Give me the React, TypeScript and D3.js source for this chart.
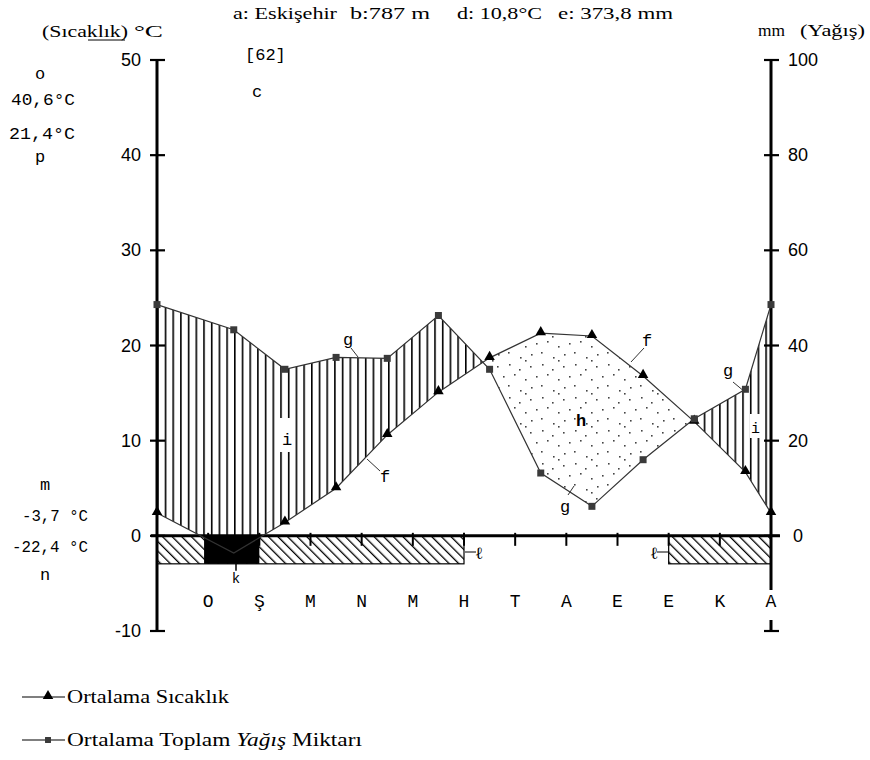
import React from 'react';
import * as d3 from 'd3';

// ---- data ----
const monthLabels = ['O', 'Ş', 'M', 'N', 'M', 'H', 'T', 'A', 'E', 'E', 'K', 'A'];
const monthPositions = [1.5, 2.5, 3.5, 4.5, 5.5, 6.5, 7.5, 8.5, 9.5, 10.5, 11.5, 12];
const temperature = [-1.8, 1.4, 5.0, 10.6, 15.1, 18.7, 21.3, 21.0, 16.8, 12.0, 6.7, 2.4];
const precipitation = [43.3, 35.0, 37.5, 37.3, 46.3, 35.0, 13.2, 6.2, 16.0, 24.6, 30.8, 48.6];
const tempTicks = [-10, 0, 10, 20, 30, 40, 50];
const precipTicks = [0, 20, 40, 60, 80, 100];
const frostCertain = [[0.92, 2.0]];
const frostProbable = [[0, 6], [10, 12]];

type P = { x: number; t: number; p: number };
const series: P[] = [
  { x: 0, t: temperature[11], p: precipitation[11] },
  ...monthPositions.map((x, i) => ({ x, t: temperature[i], p: precipitation[i] })),
];

const x = d3.scaleLinear().domain([0, 12]).range([157, 771]);
const yT = d3.scaleLinear().domain([-10, 50]).range([631, 60]);
const yP = d3.scaleLinear().domain([-20, 100]).range([631, 60]);

const serif = '"Liberation Serif", "Times New Roman", serif';
const mono = '"Liberation Mono", "Courier New", monospace';
const sans = '"Liberation Sans", Arial, sans-serif';

const tempLine = d3.line<P>().x(d => x(d.x)).y(d => yT(d.t));
const precLine = d3.line<P>().x(d => x(d.x)).y(d => yP(d.p));
const belowPrecip = d3.area<P>().x(d => x(d.x)).y0(yT(-10)).y1(d => yP(d.p));
const aboveTemp = d3.area<P>().x(d => x(d.x)).y0(d => yT(d.t)).y1(yT(50));
const belowTemp = d3.area<P>().x(d => x(d.x)).y0(yT(-10)).y1(d => yT(d.t));
const abovePrecip = d3.area<P>().x(d => x(d.x)).y0(d => yP(d.p)).y1(yT(50));

const tri = d3.symbol().type(d3.symbolTriangle).size(48)();
const sq = d3.symbol().type(d3.symbolSquare).size(49)();

const dotTile = [[2, 3], [14, 1], [24, 6], [8, 13], [19, 11], [30, 16], [3, 24], [13, 22], [25, 27], [30, 30]];

export default function App() {
  const y0 = yT(0);
  const barH = 28;
  return (
    <svg width={870} height={760} style={{ position: 'absolute', left: 0, top: 0, background: '#fff' }}>
      <defs>
        <pattern id="vhatch" patternUnits="userSpaceOnUse" x={157} y={0} width={7.7} height={10}>
          <rect x={0} y={0} width={1.6} height={10} fill="#000" />
        </pattern>
        <pattern id="dhatch" patternUnits="userSpaceOnUse" width={6.8} height={10} patternTransform="rotate(-45)">
          <rect x={0} y={0} width={1.3} height={10} fill="#000" />
        </pattern>
        <pattern id="dots" patternUnits="userSpaceOnUse" width={33} height={33}>
          {dotTile.map(([a, b], i) => <rect key={i} x={a} y={b} width={1.6} height={1.6} fill="#444" />)}
        </pattern>
        <clipPath id="cBelowPrecip"><path d={belowPrecip(series) || ''} /></clipPath>
        <clipPath id="cBelowTemp"><path d={belowTemp(series) || ''} /></clipPath>
      </defs>

      {/* humid & arid periods */}
      <path d={aboveTemp(series) || ''} fill="url(#vhatch)" clipPath="url(#cBelowPrecip)" />
      <path d={abovePrecip(series) || ''} fill="url(#dots)" clipPath="url(#cBelowTemp)" />

      {/* frost bars */}
      {frostProbable.map(([a, b], i) => (
        <g key={i}>
          <rect x={x(a)} y={y0} width={x(b) - x(a)} height={barH} fill="#fff" />
          <rect x={x(a)} y={y0} width={x(b) - x(a)} height={barH} fill="url(#dhatch)" stroke="#000" strokeWidth={1.2} />
        </g>
      ))}
      {frostCertain.map(([a, b], i) => (
        <rect key={i} x={x(a)} y={y0} width={x(b) - x(a)} height={barH} fill="#000" />
      ))}

      {/* axes */}
      <line x1={x(0)} x2={x(0)} y1={yT(50)} y2={yT(-10)} stroke="#000" strokeWidth={3} />
      <line x1={x(12)} x2={x(12)} y1={yT(50)} y2={yT(-10)} stroke="#000" strokeWidth={3} />
      <line x1={x(0) - 6} x2={x(12) + 9} y1={y0} y2={y0} stroke="#000" strokeWidth={3} />
      {tempTicks.map(t => (
        <g key={t}>
          <line x1={x(0) - 7} x2={x(0) + 8} y1={yT(t)} y2={yT(t)} stroke="#000" strokeWidth={2.2} />
          <text x={141} y={yT(t)} textAnchor="end" dominantBaseline="central" fontFamily={sans} fontSize={18}>{t}</text>
        </g>
      ))}
      {precipTicks.map(p => (
        <g key={p}>
          <line x1={x(12) - 7} x2={x(12) + 8} y1={yP(p)} y2={yP(p)} stroke="#000" strokeWidth={2.2} />
          <text x={p === 0 ? 793 : 788} y={yP(p)} textAnchor="start" dominantBaseline="central" fontFamily={sans} fontSize={18}>{p}</text>
        </g>
      ))}
      <line x1={x(12) - 7} x2={x(12) + 8} y1={yT(-10)} y2={yT(-10)} stroke="#000" strokeWidth={2.2} />
      {d3.range(1, 12).map(k => (
        <line key={k} x1={x(k)} x2={x(k)} y1={y0 - 3} y2={y0 + 10} stroke="#000" strokeWidth={2} />
      ))}
      {monthLabels.map((m, i) => (
        <g key={i}>
          {i === 11 && <rect x={x(i + 1) - 9} y={590} width={18} height={30} fill="#fff" />}
          <text x={x(i + 1)} y={607} textAnchor="middle" fontFamily={mono} fontSize={18}>{m}</text>
        </g>
      ))}

      {/* curves */}
      <path d={tempLine(series) || ''} fill="none" stroke="#333" strokeWidth={1.2} />
      <path d={precLine(series) || ''} fill="none" stroke="#333" strokeWidth={1.2} />
      {series.filter(d => d.t >= 0).map((d, i) => (
        <path key={'t' + i} d={tri || ''} transform={`translate(${x(d.x)},${yT(d.t) - 1})`} fill="#000" />
      ))}
      {series.map((d, i) => (
        <path key={'p' + i} d={sq || ''} transform={`translate(${x(d.x)},${yP(d.p)})`} fill="#3a3a3a" />
      ))}

      {/* plot annotations */}
      <g fontFamily={mono} fontSize={17} fill="#000">
        <text x={343} y={345}>g</text>
        <line x1={351} y1={348} x2={358} y2={357} stroke="#333" />
        <rect x={279} y={418} width={16} height={34} fill="#fff" />
        <text x={282} y={445}>i</text>
        <text x={380} y={482}>f</text>
        <line x1={367} y1={459} x2={380} y2={471} stroke="#333" />
        <text x={642} y={346}>f</text>
        <line x1={631} y1={362} x2={644} y2={348} stroke="#333" />
        <text x={576} y={426} fontWeight="bold">h</text>
        <text x={560} y={512}>g</text>
        <line x1={568} y1={495} x2={574} y2={486} stroke="#333" />
        <text x={723} y={376}>g</text>
        <line x1={733} y1={382} x2={745} y2={392} stroke="#333" />
        <rect x={750} y={414} width={11} height={24} fill="#fff" />
        <text x={751} y={433} fontSize={15}>i</text>
        <line x1={236} y1={y0 + barH} x2={236} y2={y0 + barH + 7} stroke="#000" strokeWidth={1.5} />
        <text x={236} y={583} textAnchor="middle" fontSize={14}>k</text>
        <line x1={465} y1={552} x2={476} y2={552} stroke="#000" />
        <text x={475} y={559} fontFamily={serif} fontSize={17}>ℓ</text>
        <text x={650} y={559} fontFamily={serif} fontSize={17}>ℓ</text>
        <line x1={657} y1={552} x2={668} y2={552} stroke="#000" />
      </g>

      {/* title and side labels */}
      <g fontFamily={serif} fontSize={17} fill="#000">
        <text x={233} y={19} textLength={104} lengthAdjust="spacingAndGlyphs">a: Eskişehir</text>
        <text x={350} y={19} textLength={80} lengthAdjust="spacingAndGlyphs">b:787 m</text>
        <text x={457} y={19} textLength={85} lengthAdjust="spacingAndGlyphs">d: 10,8°C</text>
        <text x={558} y={19} textLength={115} lengthAdjust="spacingAndGlyphs">e: 373,8 mm</text>
        <text x={42} y={37} textLength={86} lengthAdjust="spacingAndGlyphs">(Sıcaklık)</text>
        <line x1={88} x2={125} y1={40} y2={40} stroke="#000" strokeWidth={1} />
        <text x={134} y={37} textLength={29} lengthAdjust="spacingAndGlyphs">°C</text>
        <text x={758} y={36} textLength={27} lengthAdjust="spacingAndGlyphs">mm</text>
        <text x={800} y={36} textLength={65} lengthAdjust="spacingAndGlyphs">(Yağış)</text>
      </g>
      <g fontFamily={mono} fontSize={17} fill="#000">
        <text x={245} y={60}>[62]</text>
        <text x={252} y={97}>c</text>
        <text x={40} y={79} textAnchor="middle">o</text>
        <text x={11} y={105} textLength={64} lengthAdjust="spacingAndGlyphs">40,6°C</text>
        <text x={9} y={139} textLength={66} lengthAdjust="spacingAndGlyphs">21,4°C</text>
        <text x={40} y={162} textAnchor="middle">p</text>
        <text x={45} y={490} textAnchor="middle">m</text>
        <text x={22} y={521} textLength={66} lengthAdjust="spacingAndGlyphs">-3,7 °C</text>
        <text x={12} y={552} textLength={76} lengthAdjust="spacingAndGlyphs">-22,4 °C</text>
        <text x={45} y={580} textAnchor="middle">n</text>
      </g>

      {/* legend */}
      <g>
        <line x1={22} x2={65} y1={697} y2={697} stroke="#000" strokeWidth={1.2} />
        <path d={tri || ''} transform="translate(48,696)" fill="#000" />
        <text x={67} y={703} fontFamily={serif} fontSize={18} textLength={162} lengthAdjust="spacingAndGlyphs">Ortalama Sıcaklık</text>
        <line x1={22} x2={65} y1={740} y2={740} stroke="#000" strokeWidth={1.2} />
        <path d={sq || ''} transform="translate(48,740) scale(0.85)" fill="#3a3a3a" />
        <text x={67} y={746} fontFamily={serif} fontSize={18} textLength={295} lengthAdjust="spacingAndGlyphs">
          Ortalama Toplam <tspan fontStyle="italic">Yağış</tspan> Miktarı
        </text>
      </g>
    </svg>
  );
}
